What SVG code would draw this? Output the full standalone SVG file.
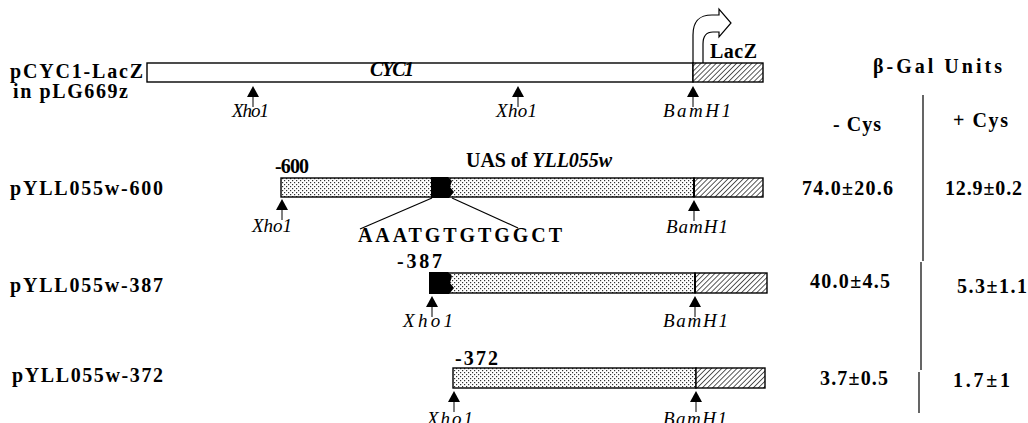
<svg xmlns="http://www.w3.org/2000/svg" width="1028" height="423" viewBox="0 0 1028 423">
<style>
.lb{font-family:"Liberation Serif",serif;font-weight:bold;font-size:20px;fill:#000}
.site{font-family:"Liberation Serif",serif;font-style:italic;font-size:19px;fill:#000}
.bar{stroke:#000;stroke-width:1.4}
.ln{stroke:#000;stroke-width:1.2;fill:none}
</style>
<defs>
<pattern id="dots" width="4" height="4" patternUnits="userSpaceOnUse">
<rect width="4" height="4" fill="#fff"/>
<rect x="0" y="0" width="1.2" height="1.2" fill="#333"/>
<rect x="2" y="2" width="1.2" height="1.2" fill="#333"/>
</pattern>
<pattern id="hatch" width="3.6" height="3.6" patternUnits="userSpaceOnUse" patternTransform="rotate(45)">
<rect width="3.6" height="3.6" fill="#fff"/>
<line x1="0" y1="0" x2="0" y2="3.6" stroke="#000" stroke-width="1.3"/>
</pattern>
<symbol id="site" overflow="visible">
<path d="M0,0 L-6,11 L6,11 Z" fill="#000"/>
<line x1="0" y1="11" x2="0" y2="21" stroke="#000" stroke-width="1"/>
</symbol>
</defs>
<rect width="1028" height="423" fill="#fff"/>

<g id="row1">
<text class="lb" x="10" y="78" font-size="21" textLength="133" lengthAdjust="spacing">pCYC1-LacZ</text>
<text class="lb" x="13" y="98" font-size="21" textLength="115" lengthAdjust="spacing">in pLG669z</text>
<rect class="bar" x="147" y="63" width="546" height="19" fill="#fff"/>
<rect class="bar" x="693" y="63" width="70" height="19" fill="url(#hatch)"/>
<text class="lb" x="370" y="76" font-size="16" font-style="italic" textLength="44" lengthAdjust="spacing">CYC1</text>
<text class="lb" x="710" y="58" textLength="47" lengthAdjust="spacing">LacZ</text>
<path class="ln" stroke-width="1.4" d="M693,63 V35 C693,20 700,15 712,15 H719 V9 L731,23 L719,37 V32 H713 C707,32 703,36 703,44 V63"/>
<use href="#site" x="253" y="86"/>
<text class="site" x="232" y="117" textLength="37" lengthAdjust="spacing">Xho1</text>
<use href="#site" x="518" y="86"/>
<text class="site" x="496" y="117" textLength="41" lengthAdjust="spacing">Xho1</text>
<use href="#site" x="693" y="86"/>
<text class="site" x="663" y="117" textLength="68" lengthAdjust="spacing">BamH1</text>
</g>

<g id="header">
<text class="lb" x="873" y="73" font-size="19" textLength="129" lengthAdjust="spacing">β-Gal Units</text>
<text class="lb" x="833" y="131" font-size="19" textLength="48" lengthAdjust="spacing">- Cys</text>
<text class="lb" x="953" y="127" font-size="19" textLength="55" lengthAdjust="spacing">+ Cys</text>
<path class="ln" stroke-width="1.6" d="M923,95 V261 M921,262 V370 M919,372 V413"/>
</g>

<g id="row2">
<text class="lb" x="10" y="195" font-size="21" textLength="153" lengthAdjust="spacing">pYLL055w-600</text>
<rect class="bar" x="281" y="178" width="413" height="19" fill="url(#dots)"/>
<rect class="bar" x="694" y="178" width="69" height="19" fill="url(#hatch)"/>
<line x1="694" y1="178" x2="694" y2="197" stroke="#000" stroke-width="2"/>
<path d="M431,177 H448 L452,181 L450,187 L454,192 L449,198 H431 Z" fill="#000"/>
<text class="lb" x="275" y="173" font-size="17" textLength="34" lengthAdjust="spacing">-600</text>
<text class="lb" x="466" y="167" textLength="146" lengthAdjust="spacing">UAS of <tspan font-style="italic">YLL055w</tspan></text>
<text class="lb" x="358" y="242" textLength="204" lengthAdjust="spacing">AAATGTGTGGCT</text>
<use href="#site" x="282" y="199"/>
<text class="site" x="252" y="232" textLength="40" lengthAdjust="spacing">Xho1</text>
<use href="#site" x="694" y="200"/>
<text class="site" x="666" y="233" textLength="62" lengthAdjust="spacing">BamH1</text>
<text class="lb" x="802" y="195" textLength="91" lengthAdjust="spacing">74.0±20.6</text>
<text class="lb" x="945" y="195" textLength="77" lengthAdjust="spacing">12.9±0.2</text>
</g>

<g id="row3">
<text class="lb" x="10" y="292" font-size="21" textLength="153" lengthAdjust="spacing">pYLL055w-387</text>
<rect class="bar" x="430" y="273" width="265" height="20" fill="url(#dots)"/>
<rect class="bar" x="695" y="273" width="72" height="20" fill="url(#hatch)"/>
<line x1="695" y1="273" x2="695" y2="293" stroke="#000" stroke-width="2"/>
<path d="M429,272 H448 L452,276 L450,283 L454,288 L449,294 H429 Z" fill="#000"/>
<text class="lb" x="397" y="268" textLength="45" lengthAdjust="spacing">-387</text>
<use href="#site" x="432" y="296"/>
<text class="site" x="403" y="327" textLength="50" lengthAdjust="spacing">Xho1</text>
<use href="#site" x="695" y="296"/>
<text class="site" x="663" y="327" textLength="65" lengthAdjust="spacing">BamH1</text>
<text class="lb" x="810" y="288" textLength="80" lengthAdjust="spacing">40.0±4.5</text>
<text class="lb" x="957" y="293" textLength="70" lengthAdjust="spacing">5.3±1.1</text>
</g>

<g id="row4">
<text class="lb" x="12" y="382" font-size="21" textLength="151" lengthAdjust="spacing">pYLL055w-372</text>
<rect class="bar" x="453" y="368" width="243" height="20" fill="url(#dots)"/>
<rect class="bar" x="696" y="368" width="69" height="20" fill="url(#hatch)"/>
<text class="lb" x="455" y="365" textLength="43" lengthAdjust="spacing">-372</text>
<use href="#site" x="454" y="391"/>
<text class="site" x="427" y="425" textLength="46" lengthAdjust="spacing">Xho1</text>
<use href="#site" x="696" y="391"/>
<text class="site" x="663" y="425" textLength="64" lengthAdjust="spacing">BamH1</text>
<text class="lb" x="820" y="385" textLength="68" lengthAdjust="spacing">3.7±0.5</text>
<text class="lb" x="953" y="387" textLength="57" lengthAdjust="spacing">1.7±1</text>
</g>

<g id="connectors">
<line class="ln" x1="432" y1="198" x2="360" y2="229"/>
<line class="ln" x1="452" y1="198" x2="518" y2="228"/>
</g>
</svg>
